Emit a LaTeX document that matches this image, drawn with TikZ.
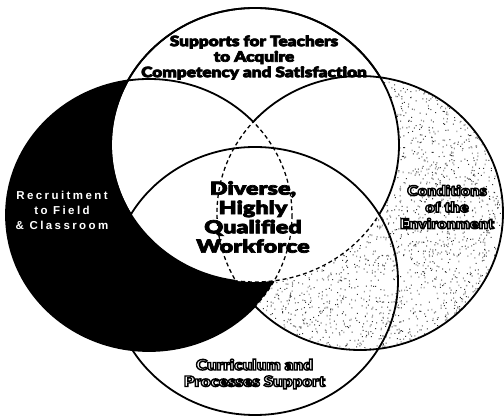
\documentclass[tikz,border=0pt]{standalone}
\usepackage{fontspec}
\newfontfamily\headfont{Lato Black}[FakeStretch=1.2, Ligatures=CommonOff]
\newfontfamily\corefont{Lato Black}[FakeStretch=1.3, Ligatures=CommonOff]
\newfontfamily\hollowfont{Lato Black}[FakeStretch=1.18, Ligatures=CommonOff]
\newfontfamily\spacedfont{Liberation Sans}[LetterSpace=21]
% heavier black lettering: glyphs filled and stroked in black
\newcommand\heavy[1]{\special{pdf:literal direct 2 Tr 0.7 w 0 0 0 RG 0 0 0 rg}#1\special{pdf:literal direct 0 Tr}}
% hollow lettering: white fill with a black stroke round each glyph
\newcommand\hollow[1]{\special{pdf:literal direct 2 Tr 1.4 w 0 0 0 RG 1 1 1 rg}#1\special{pdf:literal direct 0 Tr}}
\tikzset{
  ring/.style={line width=1.8pt, black},
  dashring/.style={line width=1.3pt, black, dash pattern=on 4pt off 3pt},
  heading/.style={font=\headfont\fontsize{14.3}{15.5}\selectfont, align=center},
  core/.style={font=\corefont\fontsize{18}{19.3}\selectfont, align=center},
  whitelabel/.style={font=\spacedfont\bfseries\fontsize{11.5}{15}\selectfont, text=white, align=center},
  outlinelabel/.style={font=\hollowfont\fontsize{13.8}{16.5}\selectfont, align=center},
}
% clip to everything outside an ellipse: clockwise frame, anticlockwise hole
\newcommand\outsideclip[3]{%
  \clip (0,0) -- (504,0) -- (504,419) -- (0,419) -- cycle
    ([xshift=#2pt]#1) arc [start angle=0, end angle=360, x radius=#2pt, y radius=#3pt];}
\begin{document}
\begin{tikzpicture}[x=1pt,y=-1pt]
\useasboundingbox[fill=white] (0,0) rectangle (504,419);
% centres of the four discs
\coordinate (T) at (255,145);
\coordinate (B) at (255,281);
\coordinate (L) at (149,215);
\coordinate (R) at (360,213);

% speckled right disc
\begin{scope}
  \clip (R) ellipse [x radius=143, y radius=137];
  \pgfmathsetseed{4711}
  \fill[black!80] \foreach \i in {1,...,2100} {({217+286*rnd},{76+274*rnd}) rectangle +(1,1)};
  \fill[black!40] \foreach \i in {1,...,1300} {({217+286*rnd},{76+274*rnd}) rectangle +(1,1.6)};
\end{scope}
% black left disc
\fill[black] (L) ellipse [x radius=143, y radius=136];
% white top disc
\fill[white] (T) ellipse [x radius=144, y radius=137];

% bottom disc outline
\draw[ring] (B) ellipse [x radius=143, y radius=134];

% left disc: solid outside the right disc, dashed inside it
\begin{scope}
  \outsideclip{R}{143}{137}
  \draw[ring] (L) ellipse [x radius=143, y radius=136];
\end{scope}
\begin{scope}
  \clip (R) ellipse [x radius=143, y radius=137];
  \draw[dashring] (L) ellipse [x radius=143, y radius=136];
\end{scope}

% right disc: solid outside the left disc, dashed inside it
\begin{scope}
  \outsideclip{L}{143}{136}
  \draw[ring] (R) ellipse [x radius=143, y radius=137];
\end{scope}
\begin{scope}
  \clip (L) ellipse [x radius=143, y radius=136];
  \draw[dashring] (R) ellipse [x radius=143, y radius=137];
\end{scope}

% top disc: dashed where right and bottom discs overlap, solid elsewhere
\begin{scope}
  \outsideclip{R}{143}{137}
  \draw[ring] (T) ellipse [x radius=144, y radius=137];
\end{scope}
\begin{scope}
  \outsideclip{B}{143}{134}
  \draw[ring] (T) ellipse [x radius=144, y radius=137];
\end{scope}
\begin{scope}
  \clip (R) ellipse [x radius=143, y radius=137];
  \clip (B) ellipse [x radius=143, y radius=134];
  \draw[dashring] (T) ellipse [x radius=144, y radius=137];
\end{scope}

% labels
\node[heading] (supports) at (254,57.5) {\heavy{Supports for Teachers\\to Acquire\\Competency and Satisfaction}};
\node[core] (workforce) at (253,217) {\heavy{Diverse,\\Highly\\Qualified\\Workforce}};
\node[whitelabel] (recruit) at (62,210) {Recruitment\\to Field\\\& Classroom};
\node[outlinelabel] (conditions) at (447,207) {\hollow{Conditions\\of the\\Environment}};
\node[outlinelabel, font=\hollowfont\fontsize{14.4}{16.5}\selectfont] (curriculum) at (254.5,374) {\hollow{Curriculum and\\Processes Support}};
\end{tikzpicture}
\end{document}
